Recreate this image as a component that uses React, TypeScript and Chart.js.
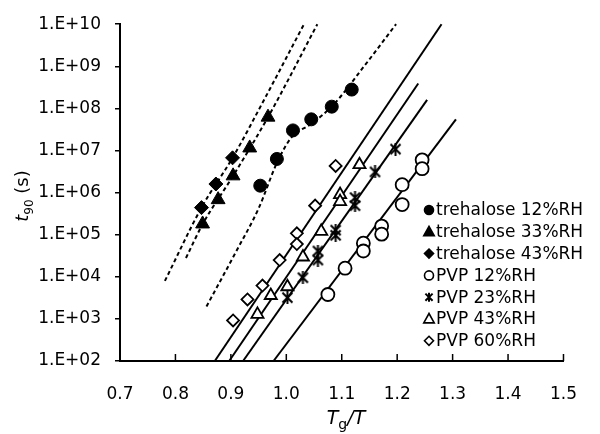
import React, { useEffect, useRef } from 'react';
import { Chart, registerables } from 'chart.js';

Chart.register(...registerables);

// ---- axis ticks ----
const X_TICKS = [0.7, 0.8, 0.9, 1.0, 1.1, 1.2, 1.3, 1.4, 1.5];
const Y_TICKS = [1e2, 1e3, 1e4, 1e5, 1e6, 1e7, 1e8, 1e9, 1e10];

// ---- series (x = Tg/T, y = t90 in s) ----
const treh12X = [0.953, 0.983, 1.012, 1.045, 1.082, 1.118];
const treh12Y = [1.46e6, 6.3e6, 3.0e7, 5.5e7, 1.1e8, 2.8e8];
const treh33X = [0.849, 0.877, 0.904, 0.934, 0.967];
const treh33Y = [1.8e5, 6.8e5, 2.5e6, 1.15e7, 6.2e7];
const treh43X = [0.847, 0.873, 0.903];
const treh43Y = [4.4e5, 1.6e6, 6.7e6];
const pvp12X = [1.075, 1.106, 1.139, 1.139, 1.172, 1.172, 1.209, 1.209, 1.245, 1.245];
const pvp12Y = [3.8e3, 1.6e4, 6.3e4, 4.1e4, 1.6e5, 1.03e5, 1.54e6, 5.2e5, 6.0e6, 3.7e6];
const pvp23X = [1.002, 1.03, 1.057, 1.057, 1.089, 1.089, 1.124, 1.124, 1.16, 1.197];
const pvp23Y = [3.2e3, 9.5e3, 4.1e4, 2.5e4, 1.28e5, 9.7e4, 7.6e5, 4.9e5, 3.1e6, 1.08e7];
const pvp43X = [0.948, 0.972, 1.002, 1.03, 1.063, 1.097, 1.097, 1.132];
const pvp43Y = [1.28e3, 3.6e3, 5.8e3, 2.95e4, 1.2e5, 9.0e5, 6.1e5, 4.6e6];
const pvp60X = [0.904, 0.93, 0.957, 0.988, 1.019, 1.019, 1.052, 1.089];
const pvp60Y = [920, 2.9e3, 6.2e3, 2.5e4, 1.08e5, 6.0e4, 4.9e5, 4.3e6];

// ---- fitted straight lines (PVP) ----
const fitPvp60X = [0.871, 1.28];
const fitPvp60Y = [1e2, 1e10];
const fitPvp43X = [0.897, 1.238];
const fitPvp43Y = [1e2, 3.9e8];
const fitPvp23X = [0.922, 1.254];
const fitPvp23Y = [1e2, 1.6e8];
const fitPvp12X = [0.977, 1.306];
const fitPvp12Y = [1e2, 5.5e7];

// ---- dashed curves (trehalose) ----
const curveT43X = [0.781, 0.847, 0.903, 0.962, 1.031];
const curveT43Y = [8.0e3, 4.4e5, 6.7e6, 1.8e8, 9.5e9];
const curveT33X = [0.819, 0.849, 0.904, 0.967, 1.056];
const curveT33Y = [2.8e4, 1.77e5, 2.5e6, 6.2e7, 1e10];
const curveT12X = [0.856, 0.91, 0.95, 0.984, 1.01, 1.044, 1.084, 1.141, 1.198];
const curveT12Y = [1.97e3, 4.1e4, 4.2e5, 5.4e6, 2.1e7, 4.2e7, 1.18e8, 1.03e9, 1e10];

const FONT = "'DejaVu Sans', 'Liberation Sans', sans-serif";

const pts = (xs: number[], ys: number[]) => xs.map((x, i) => ({ x, y: ys[i] }));

function makeStar(size: number, lw: number) {
  const c = document.createElement('canvas');
  c.width = size;
  c.height = size;
  const g = c.getContext('2d')!;
  g.strokeStyle = '#000';
  g.lineWidth = lw;
  g.lineCap = 'butt';
  const m = lw / 2 + 0.5;
  g.beginPath();
  g.moveTo(m, m);
  g.lineTo(size - m, size - m);
  g.moveTo(size - m, m);
  g.lineTo(m, size - m);
  g.moveTo(size / 2, 0);
  g.lineTo(size / 2, size);
  g.stroke();
  return c;
}

function drawMarker(ctx: CanvasRenderingContext2D, kind: string, x: number, y: number, r: number, filled: boolean) {
  ctx.save();
  ctx.fillStyle = filled ? '#000' : '#fff';
  ctx.strokeStyle = '#000';
  ctx.lineWidth = 1.6;
  ctx.beginPath();
  if (kind === 'circle') {
    ctx.arc(x, y, r, 0, Math.PI * 2);
  } else if (kind === 'triangle') {
    ctx.moveTo(x, y - r);
    ctx.lineTo(x + r * 0.95, y + r * 0.7);
    ctx.lineTo(x - r * 0.95, y + r * 0.7);
    ctx.closePath();
  } else if (kind === 'diamond') {
    ctx.moveTo(x, y - r);
    ctx.lineTo(x + r, y);
    ctx.lineTo(x, y + r);
    ctx.lineTo(x - r, y);
    ctx.closePath();
  } else if (kind === 'star') {
    ctx.moveTo(x - r * 0.8, y - r * 0.8);
    ctx.lineTo(x + r * 0.8, y + r * 0.8);
    ctx.moveTo(x + r * 0.8, y - r * 0.8);
    ctx.lineTo(x - r * 0.8, y + r * 0.8);
    ctx.moveTo(x, y - r);
    ctx.lineTo(x, y + r);
    ctx.lineWidth = 2;
    ctx.stroke();
    ctx.restore();
    return;
  }
  ctx.fill();
  ctx.stroke();
  ctx.restore();
}

const decorPlugin = {
  id: 'decor',
  afterDraw(chart: any) {
    const ctx: CanvasRenderingContext2D = chart.ctx;
    const xs = chart.scales.x;
    const ca = chart.chartArea;
    ctx.save();
    // inward ticks on the x axis
    ctx.strokeStyle = '#000';
    ctx.lineWidth = 1.5;
    for (const v of X_TICKS) {
      if (v === 0.7) continue;
      const px = xs.getPixelForValue(v);
      ctx.beginPath();
      ctx.moveTo(px, ca.bottom);
      ctx.lineTo(px, ca.bottom - 7);
      ctx.stroke();
    }
    ctx.fillStyle = '#000';
    ctx.textBaseline = 'alphabetic';
    // x title: Tg/T
    {
      const big = `italic 19px ${FONT}`;
      const small = `14px ${FONT}`;
      ctx.font = big;
      const wT = ctx.measureText('T').width;
      const wSlash = ctx.measureText('/').width;
      ctx.font = small;
      const wg = ctx.measureText('g').width;
      const total = wT + wg + wSlash + wT;
      let x = 346 - total / 2;
      const y = 424;
      ctx.font = big;
      ctx.fillText('T', x, y);
      x += wT;
      ctx.font = small;
      ctx.fillText('g', x, y + 5);
      x += wg;
      ctx.font = big;
      ctx.fillText('/', x, y);
      x += wSlash;
      ctx.fillText('T', x, y);
    }
    // y title: t90 (s)
    {
      ctx.save();
      ctx.translate(28, 196);
      ctx.rotate(-Math.PI / 2);
      const big = `italic 18px ${FONT}`;
      const small = `12px ${FONT}`;
      const norm = `18px ${FONT}`;
      ctx.font = big;
      const wt = ctx.measureText('t').width;
      ctx.font = small;
      const w90 = ctx.measureText('90').width;
      ctx.font = norm;
      const ws = ctx.measureText(' (s)').width;
      let x = -(wt + w90 + ws) / 2;
      ctx.font = big;
      ctx.fillText('t', x, 0);
      x += wt;
      ctx.font = small;
      ctx.fillText('90', x, 5);
      x += w90;
      ctx.font = norm;
      ctx.fillText(' (s)', x, 0);
      ctx.restore();
    }
    // legend
    const items = chart.data.datasets.filter((d: any) => d.legendKind);
    ctx.font = `17px ${FONT}`;
    ctx.textBaseline = 'middle';
    items.forEach((d: any, i: number) => {
      const y = 210 + i * 21.8;
      drawMarker(ctx, d.legendKind, 429, y, d.legendKind === 'triangle' ? 5.5 : 4.5, d.legendFilled);
      ctx.fillStyle = '#000';
      ctx.fillText(d.label, 436, y + 1);
    });
    ctx.restore();
  },
};

export default function App() {
  const ref = useRef<HTMLCanvasElement>(null);
  useEffect(() => {
    if (!ref.current) return;
    const star = makeStar(13, 2);
    const marker = (label: string, data: any[], style: any, r: number, filled: boolean, kind: string) => ({
      type: 'scatter',
      label,
      data,
      pointStyle: style,
      pointRadius: r,
      pointHoverRadius: r,
      pointBackgroundColor: filled ? '#000' : '#fff',
      pointBorderColor: '#000',
      pointBorderWidth: filled ? 1 : 1.8,
      showLine: false,
      order: 0,
      legendKind: kind,
      legendFilled: filled,
    });
    const line = (label: string, data: any[], dashed: boolean) => ({
      type: 'line',
      label,
      data,
      borderColor: '#000',
      borderWidth: 2,
      borderDash: dashed ? [4, 3] : [],
      pointRadius: 0,
      showLine: true,
      fill: false,
      cubicInterpolationMode: dashed ? 'monotone' : 'default',
      tension: 0,
      order: 1,
      clip: false,
    });
    const chart = new Chart(ref.current, {
      type: 'scatter',
      data: {
        datasets: [
          marker('trehalose 12%RH', pts(treh12X, treh12Y), 'circle', 6.5, true, 'circle'),
          marker('trehalose 33%RH', pts(treh33X, treh33Y), 'triangle', 8, true, 'triangle'),
          marker('trehalose 43%RH', pts(treh43X, treh43Y), 'rectRot', 7, true, 'diamond'),
          marker('PVP 12%RH', pts(pvp12X, pvp12Y), 'circle', 6.5, false, 'circle'),
          marker('PVP 23%RH', pts(pvp23X, pvp23Y), star, 6.5, false, 'star'),
          marker('PVP 43%RH', pts(pvp43X, pvp43Y), 'triangle', 7, false, 'triangle'),
          marker('PVP 60%RH', pts(pvp60X, pvp60Y), 'rectRot', 6, false, 'diamond'),
          line('fit PVP 60', pts(fitPvp60X, fitPvp60Y), false),
          line('fit PVP 43', pts(fitPvp43X, fitPvp43Y), false),
          line('fit PVP 23', pts(fitPvp23X, fitPvp23Y), false),
          line('fit PVP 12', pts(fitPvp12X, fitPvp12Y), false),
          line('curve treh 43', pts(curveT43X, curveT43Y), true),
          line('curve treh 33', pts(curveT33X, curveT33Y), true),
          line('curve treh 12', pts(curveT12X, curveT12Y), true),
        ] as any,
      },
      options: {
        animation: false,
        responsive: false,
        maintainAspectRatio: false,
        layout: { padding: { top: 21, right: 20, left: 0, bottom: 0 } },
        plugins: { legend: { display: false }, tooltip: { enabled: false } },
        scales: {
          x: {
            type: 'linear',
            min: 0.7,
            max: 1.5,
            afterBuildTicks: (s: any) => {
              s.ticks = X_TICKS.map((v) => ({ value: v }));
            },
            afterFit: (s: any) => {
              s.height = 73;
            },
            ticks: {
              color: '#000',
              font: { family: FONT, size: 17 },
              padding: 23,
              maxRotation: 0,
              autoSkip: false,
              callback: (v: any) => Number(v).toFixed(1),
            },
            grid: { display: false, drawTicks: false },
            border: { display: true, color: '#000', width: 2 },
          },
          y: {
            type: 'logarithmic',
            min: 1e2,
            max: 1e10,
            afterBuildTicks: (s: any) => {
              s.ticks = Y_TICKS.map((v) => ({ value: v, major: true }));
            },
            afterFit: (s: any) => {
              s.width = 120;
            },
            ticks: {
              color: '#000',
              font: { family: FONT, size: 17 },
              padding: 14,
              autoSkip: false,
              callback: (v: any) => '1.E+' + String(Math.round(Math.log10(Number(v)))).padStart(2, '0'),
            },
            grid: { display: true, drawOnChartArea: false, drawTicks: true, tickLength: 5, color: '#000', lineWidth: 1.5 },
            border: { display: true, color: '#000', width: 2 },
          },
        },
      } as any,
      plugins: [decorPlugin],
    });
    return () => chart.destroy();
  }, []);
  return (
    <div style={{ position: 'absolute', left: 0, top: 0, width: 600, height: 434, background: '#fff' }}>
      <canvas ref={ref} width={600} height={434} style={{ width: 600, height: 434, display: 'block' }} />
    </div>
  );
}
